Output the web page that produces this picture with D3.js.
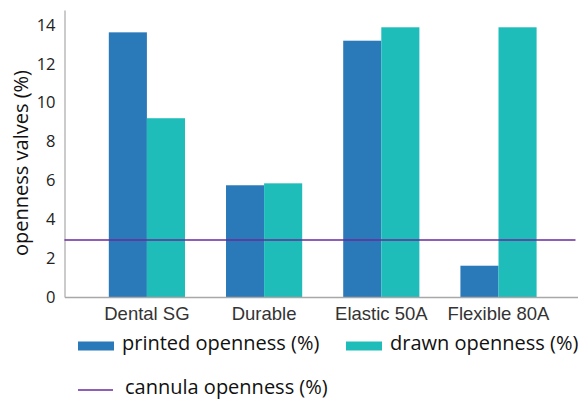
<!DOCTYPE html>
<html>
<head>
<meta charset="utf-8">
<script src="https://cdn.jsdelivr.net/npm/d3@7/dist/d3.min.js"></script>
<style>
  html, body { margin: 0; padding: 0; background: #fff; }
  svg { display: block; }
</style>
</head>
<body>
<svg id="chart" width="581" height="399"></svg>
<script>
// Materials on the x axis
const materials = ["Dental SG", "Durable", "Elastic 50A", "Flexible 80A"];
// Openness of the valves, in percent
const printedOpenness = [13.62, 5.75, 13.19, 1.61];
const drawnOpenness = [9.2, 5.85, 13.88, 13.88];
// Reference value for the cannula
const cannulaOpenness = 2.93;
// Y axis ticks
const yTicks = [0, 2, 4, 6, 8, 10, 12, 14];
const seriesNames = ["printed openness (%)", "drawn openness (%)", "cannula openness (%)"];
const seriesColors = ["#2a79b9", "#1ebdba", "#6a2a9c"];

const svg = d3.select("#chart");
const plot = { left: 64.5, right: 577.5, top: 10, bottom: 297 };

const x = d3.scaleBand().domain(materials).range([plot.left, plot.right])
  .paddingInner(0.35).paddingOuter(0.3635).align(0.52);
const sub = d3.scaleBand().domain([0, 1]).range([0, x.bandwidth()]);
const y = d3.scaleLinear().domain([0, 14.77]).range([plot.bottom, plot.top]);

const rows = materials.map((m, i) => ({ m, vals: [printedOpenness[i], drawnOpenness[i]] }));

// Bars
const g = svg.append("g");
rows.forEach(r => {
  g.selectAll(null).data(r.vals).enter().append("rect")
    .attr("x", (d, j) => x(r.m) + sub(j))
    .attr("y", d => y(d))
    .attr("width", sub.bandwidth())
    .attr("height", d => y(0) - y(d))
    .attr("fill", (d, j) => seriesColors[j]);
});

// Axes
const yAxis = d3.axisLeft(y).tickValues(yTicks).tickSize(0).tickPadding(9).tickFormat(d3.format("d"));
const yg = svg.append("g").attr("transform", `translate(${plot.left},0)`).call(yAxis);
yg.select(".domain").attr("stroke", "#a8a8a8").attr("stroke-width", 1.2);
yg.selectAll("text").attr("font-family", "'Open Sans', sans-serif").attr("font-size", 16.5).attr("fill", "#222");

const xAxis = d3.axisBottom(x).tickSize(0).tickPadding(10);
const xg = svg.append("g").attr("transform", `translate(0,${plot.bottom})`).call(xAxis);
xg.select(".domain").attr("stroke", "#a8a8a8").attr("stroke-width", 1.5);
xg.selectAll("text").attr("font-family", "'Liberation Sans', Arial, sans-serif").attr("font-size", 18.5).attr("fill", "#333");

// Cannula reference line
svg.append("line")
  .attr("x1", plot.left).attr("x2", 575.5)
  .attr("y1", y(cannulaOpenness)).attr("y2", y(cannulaOpenness))
  .attr("stroke", seriesColors[2]).attr("stroke-width", 1.5);

// Y axis title
svg.append("text")
  .attr("transform", "translate(28,163) rotate(-90)")
  .attr("text-anchor", "middle")
  .attr("font-family", "'Open Sans', sans-serif")
  .attr("font-size", 20)
  .attr("fill", "#111")
  .text("openness valves (%)");

// Legend
const legend = svg.append("g").attr("font-family", "'Open Sans', sans-serif").attr("font-size", 20).attr("fill", "#111");
const legendItems = [
  { x: 78, y: 346, type: "rect", i: 0 },
  { x: 346, y: 346, type: "rect", i: 1 },
  { x: 78, y: 390, type: "line", i: 2 }
];
legendItems.forEach(it => {
  if (it.type === "rect") {
    legend.append("rect").attr("x", it.x).attr("y", it.y - 4.5).attr("width", 36).attr("height", 9)
      .attr("fill", seriesColors[it.i]);
  } else {
    legend.append("line").attr("x1", it.x).attr("x2", it.x + 35).attr("y1", it.y).attr("y2", it.y)
      .attr("stroke", seriesColors[it.i]).attr("stroke-width", 1.5);
  }
  legend.append("text").attr("x", it.x + (it.type === "rect" ? 44 : 47)).attr("y", it.y - 1)
    .attr("dominant-baseline", "middle").text(seriesNames[it.i]);
});
</script>
</body>
</html>
